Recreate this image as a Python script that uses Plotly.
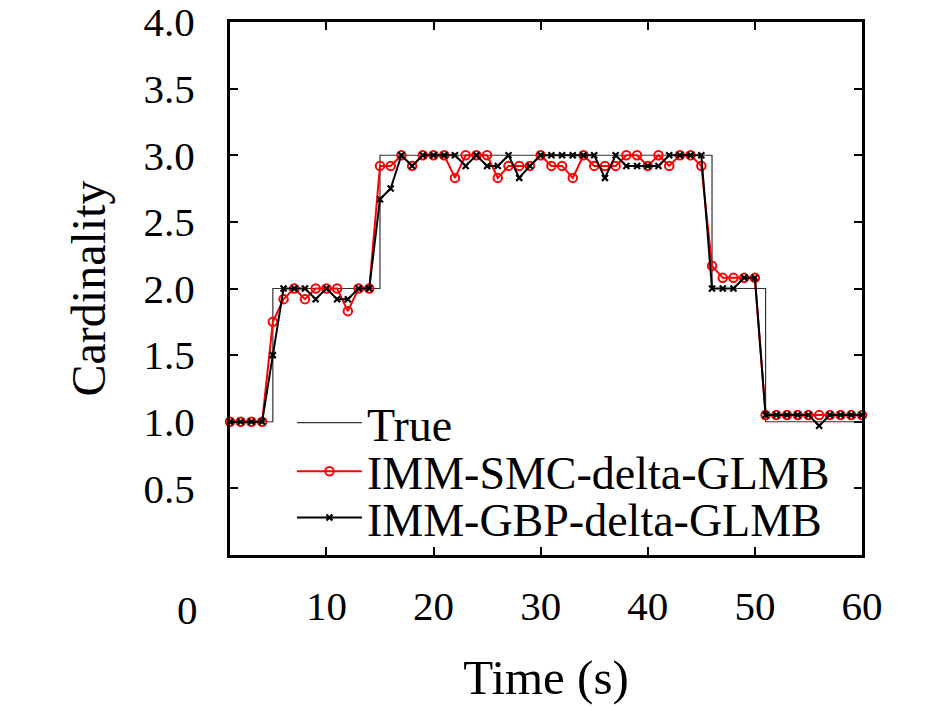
import plotly.graph_objects as go

time_s = list(range(1, 61))

true_card = [1]*4 + [2]*10 + [3]*31 + [2]*5 + [1]*10

smc_card = [1.0, 1.0, 1.0, 1.0, 1.75, 1.92, 2.0, 1.92, 2.0, 2.0,
            2.0, 1.83, 2.0, 2.0, 2.92, 2.92, 3.0, 2.92, 3.0, 3.0,
            3.0, 2.83, 3.0, 3.0, 3.0, 2.83, 2.92, 2.92, 2.92, 3.0,
            2.92, 2.92, 2.83, 3.0, 2.92, 2.92, 2.92, 3.0, 3.0, 2.92,
            3.0, 2.92, 3.0, 3.0, 2.92, 2.17, 2.08, 2.08, 2.08, 2.08,
            1.05, 1.05, 1.05, 1.05, 1.05, 1.05, 1.05, 1.05, 1.05, 1.05]

gbp_card = [1.0, 1.0, 1.0, 1.0, 1.5, 2.0, 2.0, 2.0, 1.92, 2.0,
            1.92, 1.92, 2.0, 2.0, 2.67, 2.75, 3.0, 2.92, 3.0, 3.0,
            3.0, 3.0, 2.92, 3.0, 2.92, 2.92, 3.0, 2.83, 2.92, 3.0,
            3.0, 3.0, 3.0, 3.0, 3.0, 2.83, 3.0, 2.92, 2.92, 2.92,
            2.92, 3.0, 3.0, 3.0, 3.0, 2.0, 2.0, 2.0, 2.08, 2.08,
            1.05, 1.05, 1.05, 1.05, 1.05, 0.97, 1.05, 1.05, 1.05, 1.05]

x_tickvals = [10, 20, 30, 40, 50, 60]
x_ticktext = ["10", "20", "30", "40", "50", "60"]
y_tickvals = [0.5, 1.0, 1.5, 2.0, 2.5, 3.0, 3.5, 4.0]
y_ticktext = ["0.5", "1.0", "1.5", "2.0", "2.5", "3.0", "3.5", "4.0"]
extra_x_label = "0"
extra_x_value = -3
x_range = [1, 60]

FONT = "Liberation Serif"
LEG_FONT = dict(family=FONT, size=46, color="black")

fig = go.Figure()
fig.add_trace(go.Scatter(
    x=time_s, y=true_card, name="True", mode="lines",
    line=dict(color="#333333", width=1.2, shape="hv"),
    cliponaxis=False, legend="legend"))
fig.add_trace(go.Scatter(
    x=time_s, y=smc_card, name="IMM-SMC-delta-GLMB", mode="lines+markers",
    line=dict(color="#ff0000", width=2),
    marker=dict(symbol="circle-open", size=8.5, color="#ff0000",
                line=dict(width=2, color="#ff0000")),
    cliponaxis=False, legend="legend2"))
fig.add_trace(go.Scatter(
    x=time_s, y=gbp_card, name="IMM-GBP-delta-GLMB", mode="lines+markers",
    line=dict(color="#000000", width=2),
    marker=dict(symbol="x-thin", size=6, color="#000000",
                line=dict(width=2.2, color="#000000")),
    cliponaxis=False, legend="legend3"))

def leg(y):
    return dict(x=0.098, y=y, xanchor="left", yanchor="middle",
                bgcolor="rgba(0,0,0,0)", borderwidth=0, font=LEG_FONT,
                itemwidth=65)

# "0" label sits left of the axis start; place it at its data position in paper units
zero_paper_x = (extra_x_value - x_range[0]) / (x_range[1] - x_range[0])

fig.update_layout(
    width=945, height=706,
    margin=dict(l=222, r=91, t=14, b=159),
    paper_bgcolor="white", plot_bgcolor="white",
    font=dict(family=FONT, size=41, color="black"),
    showlegend=True,
    legend=leg(0.248), legend2=leg(0.157), legend3=leg(0.070),
    annotations=[dict(x=zero_paper_x, y=-0.104, xref="paper", yref="paper",
                      text=extra_x_label, showarrow=False,
                      xanchor="center", yanchor="middle",
                      font=dict(family=FONT, size=41, color="black"))],
)
fig.update_xaxes(
    range=x_range, tickvals=x_tickvals, ticktext=x_ticktext,
    ticks="inside", ticklen=8, tickwidth=2, tickcolor="black",
    showline=True, linewidth=3, linecolor="black", mirror="ticks",
    showgrid=False, zeroline=False, ticklabelstandoff=13, automargin=False,
    ticklabeloverflow="allow",
    title=dict(text="Time (s)", font=dict(family=FONT, size=49), standoff=32))
fig.update_yaxes(
    range=[0, 4], tickvals=y_tickvals, ticktext=y_ticktext,
    ticks="inside", ticklen=8, tickwidth=2, tickcolor="black",
    showline=True, linewidth=3, linecolor="black", mirror="ticks",
    showgrid=False, zeroline=False, ticklabelstandoff=24, automargin=False,
    ticklabeloverflow="allow",
    title=dict(text="Cardinality", font=dict(family=FONT, size=48), standoff=23))

fig.write_html("out.html")
